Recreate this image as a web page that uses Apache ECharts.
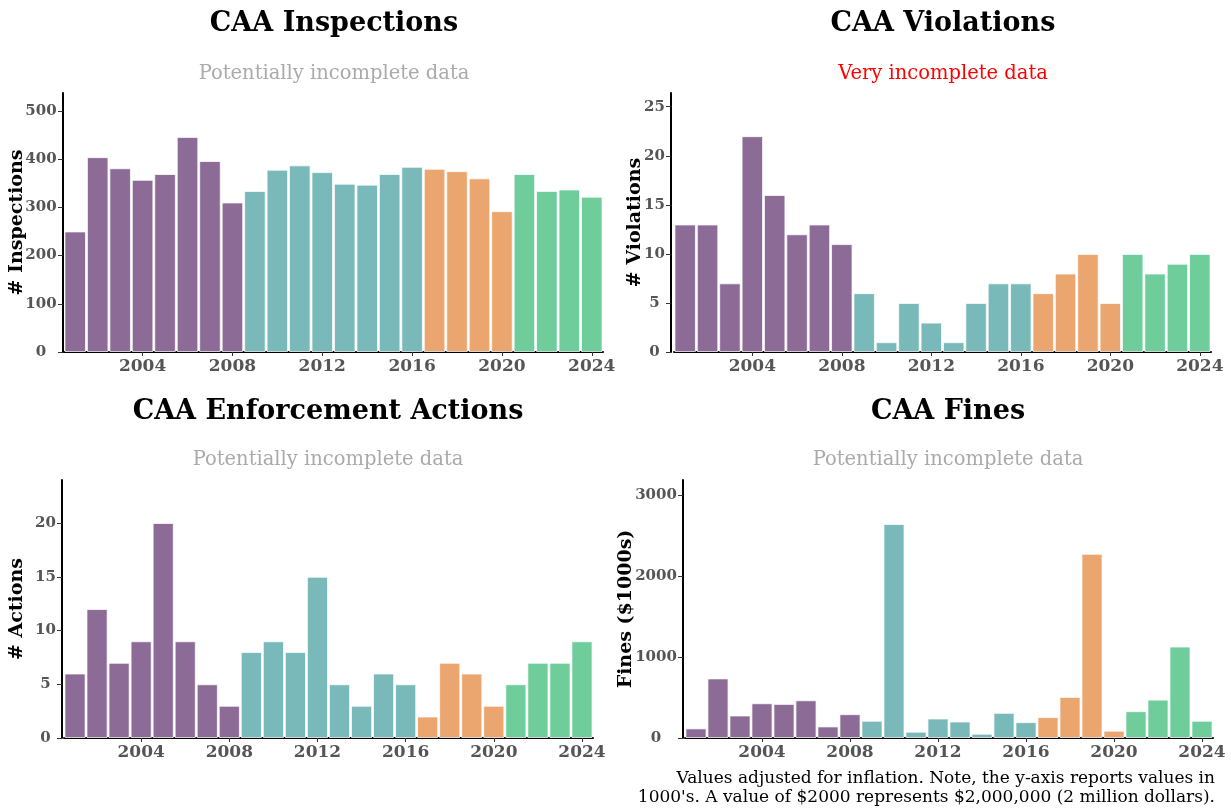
<!DOCTYPE html>
<html>
<head>
<meta charset="utf-8">
<script src="https://cdn.jsdelivr.net/npm/echarts@6/dist/echarts.min.js"></script>
<style>
  html, body { margin: 0; padding: 0; background: #fff; }
  #chart { width: 1231px; height: 808px; }
</style>
</head>
<body>
<div id="chart"></div>
<script>
// ---------------- data ----------------
const years = [2001, 2002, 2003, 2004, 2005, 2006, 2007, 2008, 2009, 2010, 2011, 2012,
               2013, 2014, 2015, 2016, 2017, 2018, 2019, 2020, 2021, 2022, 2023, 2024];
const inspections = [250, 404, 381, 357, 369, 446, 396, 310, 334, 378, 387, 373,
                     349, 347, 369, 384, 380, 375, 360, 292, 369, 334, 337, 322];
const violations = [13, 13, 7, 22, 16, 12, 13, 11, 6, 1, 5, 3,
                    1, 5, 7, 7, 6, 8, 10, 5, 10, 8, 9, 10];
const actions = [6, 12, 7, 9, 20, 9, 5, 3, 8, 9, 8, 15,
                 5, 3, 6, 5, 2, 7, 6, 3, 5, 7, 7, 9];
const fines = [119, 736, 278, 429, 421, 466, 143, 294, 213, 2642, 78, 241,
               204, 53, 311, 196, 258, 507, 2274, 90, 331, 474, 1129, 213];

const xTickYears = [2004, 2008, 2012, 2016, 2020, 2024];
const inspTicks = [0, 100, 200, 300, 400, 500];
const violTicks = [0, 5, 10, 15, 20, 25];
const actTicks = [0, 5, 10, 15, 20];
const fineTicks = [0, 1000, 2000, 3000];

const titles = ['CAA Inspections', 'CAA Violations', 'CAA Enforcement Actions', 'CAA Fines'];
const subtitles = ['Potentially incomplete data', 'Very incomplete data',
                   'Potentially incomplete data', 'Potentially incomplete data'];
const axisNames = ['# Inspections', '# Violations', '# Actions', 'Fines ($1000s)'];
const footnote = ['Values adjusted for inflation. Note, the y-axis reports values in',
                  "1000's. A value of $2000 represents $2,000,000 (2 million dollars)."];

// ---------------- style / layout ----------------
const SERIF = "'DejaVu Serif', serif";
function eraColor(y) {
  if (y <= 2008) return '#8c6b97';
  if (y <= 2016) return '#79b9b9';
  if (y <= 2020) return '#eba66f';
  return '#6ecd9b';
}
const panels = [
  { grid: { left: 64, top: 93, width: 539, height: 259 }, max: 537, ticks: inspTicks, interval: 100, values: inspections, off: 1, gap: 36, lm: 22, sub: '#aaaaaa', cx: 334, ty: 24, sy: 74 },
  { grid: { left: 674, top: 93, width: 537, height: 259 }, max: 26.4, ticks: violTicks, interval: 5, values: violations, off: 3, gap: 26, lm: 16.5, sub: '#ff0000', cx: 943, ty: 24, sy: 74 },
  { grid: { left: 64, top: 480, width: 529, height: 258 }, max: 24, ticks: actTicks, interval: 5, values: actions, off: 2, gap: 35, lm: 16.5, sub: '#aaaaaa', cx: 328, ty: 412, sy: 460 },
  { grid: { left: 685, top: 480, width: 528, height: 258 }, max: 3185, ticks: fineTicks, interval: 1000, values: fines, off: 2, gap: 47, lm: 27, sub: '#aaaaaa', cx: 948, ty: 412, sy: 460 }
];

const isTickYear = (idx, val) => xTickYears.indexOf(Number(val)) >= 0;

const option = {
  backgroundColor: '#ffffff',
  animation: false,
  grid: panels.map(p => Object.assign({ containLabel: false }, p.grid)),
  xAxis: panels.map((p, i) => ({
    type: 'category',
    gridIndex: i,
    data: years.map(String),
    boundaryGap: true,
    axisLine: { show: true, lineStyle: { color: '#000', width: 2 } },
    axisTick: { show: true, alignWithLabel: true, interval: isTickYear, length: 4, lineStyle: { color: '#333', width: 1 } },
    axisLabel: { interval: isTickYear, color: '#555', fontFamily: SERIF, fontWeight: 'bold', fontSize: 17, margin: 6 },
    splitLine: { show: false }
  })),
  yAxis: panels.map((p, i) => ({
    type: 'value',
    gridIndex: i,
    min: 0,
    max: p.max,
    interval: p.interval,
    offset: p.off,
    name: axisNames[i],
    nameLocation: 'middle',
    nameRotate: 90,
    nameGap: p.gap,
    nameMoveOverlap: false,
    nameTextStyle: { color: '#000', fontFamily: SERIF, fontWeight: 'bold', fontSize: 19 },
    axisLine: { show: true, lineStyle: { color: '#000', width: 2 } },
    axisTick: { show: true, length: 5, customValues: p.ticks, lineStyle: { color: '#333', width: 1 } },
    axisLabel: { customValues: p.ticks, formatter: v => String(v), align: 'center', color: '#555', fontFamily: SERIF, fontWeight: 'bold', fontSize: 15, margin: p.lm },
    splitLine: { show: false }
  })),
  series: panels.map((p, i) => ({
    type: 'bar',
    xAxisIndex: i,
    yAxisIndex: i,
    barCategoryGap: '4%',
    data: p.values.map((v, k) => ({
      value: v,
      itemStyle: { color: eraColor(years[k]) }
    })),
    itemStyle: { borderColor: 'rgba(255,255,255,0.75)', borderWidth: 1 }
  })),
  graphic: []
};

panels.forEach((p, i) => {
  option.graphic.push({
    type: 'text', x: p.cx, y: p.ty,
    style: { text: titles[i], fill: '#000', font: "bold 27px 'DejaVu Serif', serif", textAlign: 'center', textVerticalAlign: 'middle' }
  });
  option.graphic.push({
    type: 'text', x: p.cx, y: p.sy,
    style: { text: subtitles[i], fill: p.sub, font: "19.5px 'DejaVu Serif', serif", textAlign: 'center', textVerticalAlign: 'middle' }
  });
});
footnote.forEach((line, k) => {
  option.graphic.push({
    type: 'text', x: 1215, y: 779 + k * 19,
    style: { text: line, fill: '#000', font: "17px 'DejaVu Serif', serif", textAlign: 'right', textVerticalAlign: 'middle' }
  });
});

const chart = echarts.init(document.getElementById('chart'), null, { renderer: 'canvas' });
chart.setOption(option);
</script>
</body>
</html>
